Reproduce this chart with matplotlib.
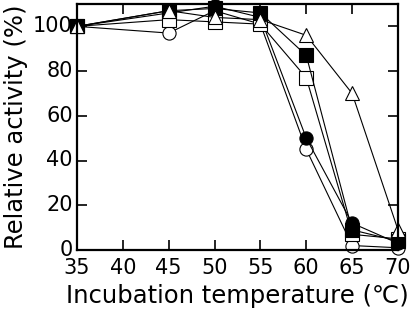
import matplotlib
matplotlib.use('Agg')
import matplotlib.pyplot as plt
import matplotlib.transforms as mtransforms

temps = [35, 45, 50, 55, 60, 65, 70]
open_circle = [100, 97, 107, 101, 45, 2, 1]
filled_circle = [100, 106, 109, 104, 50, 12, 3]
open_square = [100, 103, 102, 101, 77, 7, 5]
filled_square = [100, 107, 108, 106, 87, 9, 4]
open_triangle = [100, 107, 104, 103, 96, 70, 9]

plt.rcParams['font.family'] = ['DejaVu Sans']

fig = plt.figure(figsize=(4.16, 3.09), dpi=100)
ax = fig.add_axes([77 / 416, 1 - 250 / 309, 321 / 416, 246 / 309])

series = [
    (open_circle, 'o', 'white'),
    (filled_circle, 'o', 'black'),
    (open_square, 's', 'white'),
    (filled_square, 's', 'black'),
    (open_triangle, '^', 'white'),
]
for vals, m, fc in series:
    ax.plot(temps, vals, color='black', lw=0.8, marker=m, markersize=9.5,
            markerfacecolor=fc, markeredgecolor='black', markeredgewidth=0.8,
            clip_on=False)

ax.set_xlim(35, 70)
ax.set_ylim(0, 110)
ax.set_xticks(range(35, 71, 5))
ax.set_yticks(range(0, 101, 20))
ax.tick_params(direction='in', length=7, width=1.2, labelsize=15,
               top=True, right=True)
ax.tick_params(axis='x', pad=6)
ax.tick_params(axis='y', pad=3)
# lift y tick labels a touch, as in the original
shift = mtransforms.ScaledTranslation(0, 1.6 / 72, fig.dpi_scale_trans)
for lbl in ax.get_yticklabels():
    lbl.set_transform(lbl.get_transform() + shift)
for s in ax.spines.values():
    s.set_linewidth(1.6)

ax.set_xlabel('Incubation temperature (℃)', fontsize=17.5, labelpad=4)
ax.set_ylabel('Relative activity (%)', fontsize=17.5, labelpad=4)

fig.savefig('out.png', dpi=100)
